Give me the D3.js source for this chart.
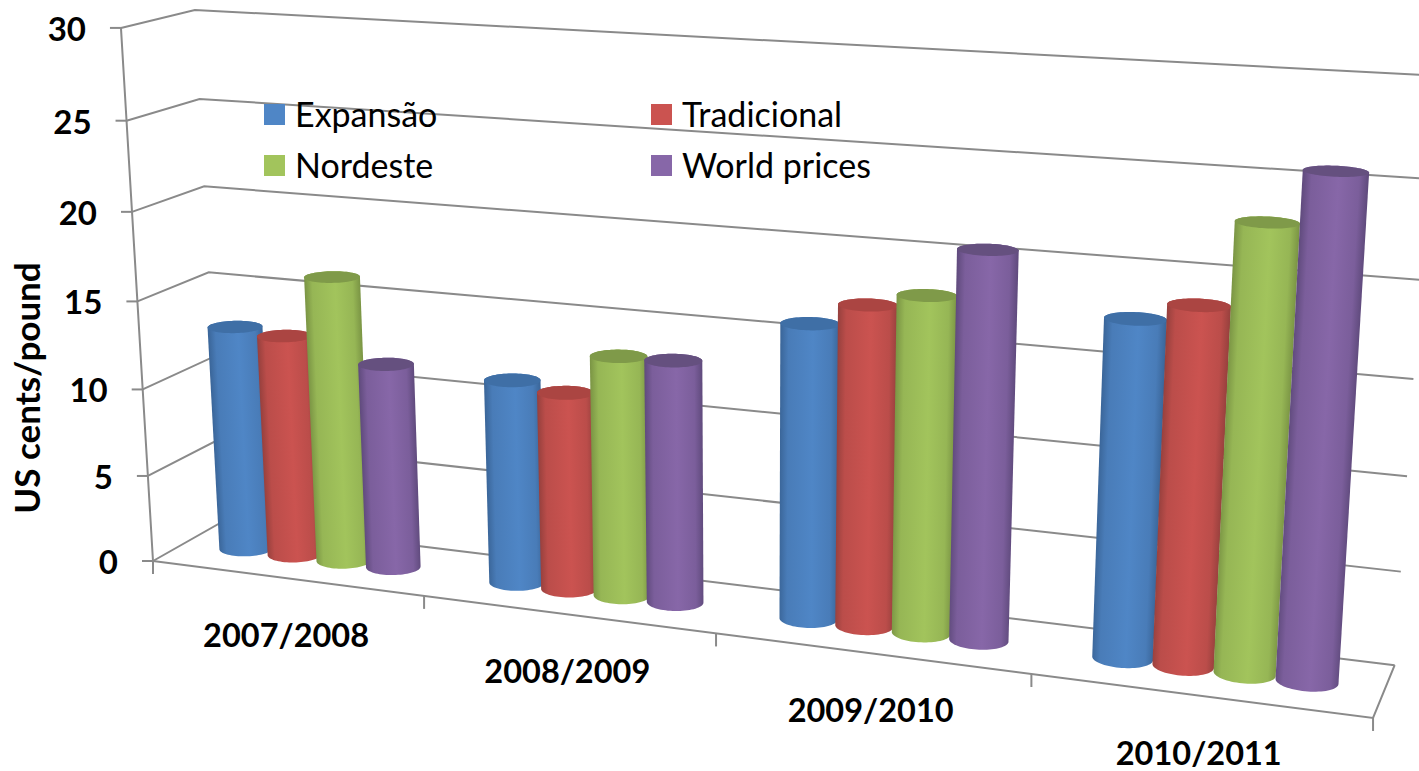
<!DOCTYPE html>
<html>
<head>
<meta charset="utf-8">
<script src="https://cdn.jsdelivr.net/npm/d3@7/dist/d3.min.js"></script>
<style>
html,body{margin:0;padding:0;background:#fff;overflow:hidden}
svg{display:block}
text{font-family:Lato,"Open Sans",sans-serif;fill:#000}
</style>
</head>
<body>
<svg id="chart" width="1419" height="771"></svg>
<script>
const categories = ["2007/2008","2008/2009","2009/2010","2010/2011"];
const seriesNames = ["Expansão","Tradicional","Nordeste","World prices"];
const expansao    = [13.0, 11.5, 16.1, 17.8];
const tradicional = [12.75, 11.1, 17.35, 18.75];
const nordeste    = [16.35, 13.4, 18.1, 23.1];
const worldPrices = [11.7, 13.45, 20.7, 25.8];
const seriesValues = [expansao, tradicional, nordeste, worldPrices];
const yTicks = [0,5,10,15,20,25,30];
const yTitle = "US cents/pound";

const styles = [
  {mid:"#4f86c6", edge:"#3a6598", cap:"#3f6fa6"},
  {mid:"#cb5350", edge:"#96403d", cap:"#ab4542"},
  {mid:"#a2c45c", edge:"#7a9444", cap:"#7f9a49"},
  {mid:"#8767a8", edge:"#5f4a7c", cap:"#65507f"}
];
const gridColor = "#8a8a8a";

// perspective projection of (X along categories, value fraction Y, depth Z), all 0..1
const origin = [153,561,1];
const axisX  = [1023.7,54.3,-0.143];
const axisZ  = [78.5,-16.6,0.043];
const axisY  = [-38.2,-534.5,-0.0509];
function project(X,Y,Z){
  const h = [0,1,2].map(i => origin[i]+X*axisX[i]+Y*axisY[i]+Z*axisZ[i]);
  return [h[0]/h[2], h[1]/h[2]];
}

const svg = d3.select("#chart");
const yScale = d3.scaleLinear().domain([0,30]).range([0,1]);
const xBand = d3.scaleBand().domain(categories).range([0,1]);
const barSpan = 0.092;
const seriesBand = d3.scaleBand().domain(seriesNames).range([-barSpan,barSpan]);
const rX = 0.0228, rZ = 0.185, zMid = 0.5;

const line = d3.line();
const grid = svg.append("g").attr("fill","none").attr("stroke",gridColor).attr("stroke-width",2);

// left wall and back wall gridlines
yTicks.forEach(t=>{
  const y = yScale(t);
  grid.append("path").attr("d", line([project(0,y,0),project(0,y,1),project(1,y,1)]));
  const p = project(0,y,0);
  grid.append("path").attr("d", line([[p[0]-11,p[1]],p]));
});
// value axis
grid.append("path").attr("d", line(d3.range(0,31,5).map(t=>project(0,yScale(t),0))));
// floor
grid.append("path").attr("d", line([project(0,0,0),project(1,0,0),project(1,0,1)]));
// category ticks
d3.range(0,5).forEach(i=>{
  const p = project(i/4,0,0);
  grid.append("path").attr("d", line([p,[p[0],p[1]+13]]));
});

// gradients + cylinders
const defs = svg.append("defs");
const circle = d3.range(0,72).map(i=>i/72*2*Math.PI);
const bars = svg.append("g");
categories.forEach((cat,ci)=>{
  const xc = xBand(cat)+xBand.bandwidth()/2;
  seriesNames.forEach((name,si)=>{
    const xs = xc + seriesBand(name) + seriesBand.bandwidth()/2;
    const yTop = yScale(seriesValues[si][ci]);
    const ring = y => circle.map(a=>project(xs+rX*Math.cos(a),y,zMid+rZ*Math.sin(a)));
    const bottom = ring(0), top = ring(yTop);
    const hull = d3.polygonHull(bottom.concat(top));
    const c0 = project(xs,0,zMid), c1 = project(xs,yTop,zMid);
    const dx = c1[0]-c0[0], dy = c1[1]-c0[1], len = Math.hypot(dx,dy);
    const nx = -dy/len, ny = dx/len;
    const rr = (d3.max(top,p=>p[0])-d3.min(top,p=>p[0]))/2;
    const mx = (c0[0]+c1[0])/2, my = (c0[1]+c1[1])/2;
    const sign = nx>0?1:-1;
    const id = `g${ci}_${si}`;
    const st = styles[si];
    const grad = defs.append("linearGradient").attr("id",id).attr("gradientUnits","userSpaceOnUse")
      .attr("x1",mx-sign*nx*rr).attr("y1",my-sign*ny*rr)
      .attr("x2",mx+sign*nx*rr).attr("y2",my+sign*ny*rr);
    [[0,st.edge,],[0.14,d3.interpolateRgb(st.edge,st.mid)(0.7)],[0.55,st.mid],[0.86,d3.interpolateRgb(st.edge,st.mid)(0.7)],[1,st.edge]]
      .forEach(s=>grad.append("stop").attr("offset",s[0]).attr("stop-color",s[1]));
    bars.append("path").attr("d",line(hull)+"Z").attr("fill",`url(#${id})`);
    bars.append("path").attr("d",line(top)+"Z").attr("fill",st.cap);
  });
});

// value labels
const axisText = svg.append("g").attr("font-weight",700);
yTicks.forEach(t=>{
  const p = project(0,yScale(t),0);
  axisText.append("text").attr("text-anchor","end").attr("font-size",33).attr("x",p[0]-35).attr("y",p[1]+13).text(t);
});
categories.forEach(cat=>{
  const p = project(xBand(cat)+xBand.bandwidth()/2,0,0);
  axisText.append("text").attr("text-anchor","middle").attr("font-size",32.5).attr("x",p[0]).attr("y",p[1]+69).text(cat);
});
axisText.append("text").attr("text-anchor","middle").attr("font-size",35)
  .attr("transform","translate(40,388) rotate(-90)").text(yTitle);

// legend
const legendX = d3.scaleOrdinal().domain([0,1]).range([264,651]);
const legendY = d3.scaleOrdinal().domain([0,1]).range([104,155]);
const legend = svg.append("g");
seriesNames.forEach((name,i)=>{
  const lx = legendX(i%2), ly = legendY(Math.floor(i/2));
  legend.append("rect").attr("x",lx).attr("y",ly).attr("width",21).attr("height",21).attr("fill",styles[i].mid);
  legend.append("text").attr("x",lx+31).attr("y",ly+23).attr("font-size",34).text(name);
});
</script>
</body>
</html>
